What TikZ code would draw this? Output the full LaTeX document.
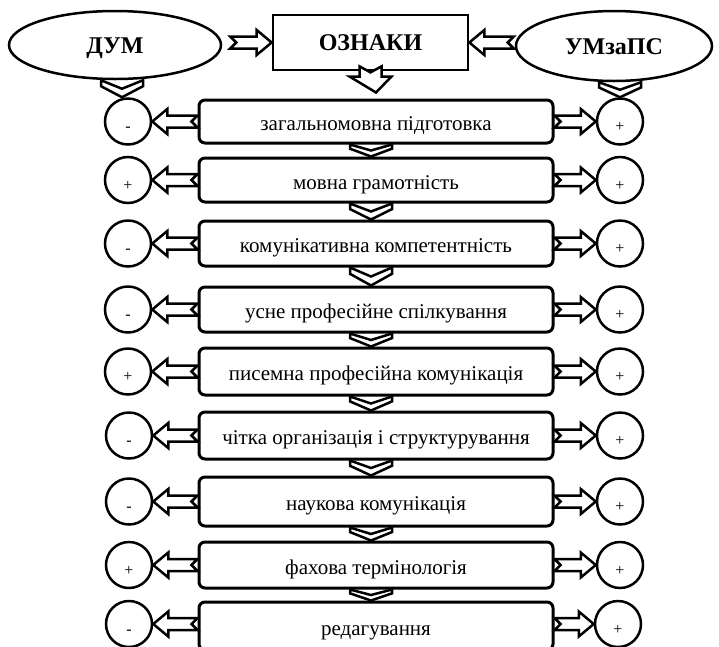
\documentclass[tikz,border=0pt]{standalone}
\usepackage{fontspec}
\setmainfont{Liberation Serif}
\usetikzlibrary{shapes.geometric,calc}

\newcommand\hblk[2]{\draw[blk] let \p1=(#1), \p2=(#2), \n1={sign(\x2-\x1)} in
  (\x1,{\y2+6pt}) -- ({\x2-\n1*15pt},{\y2+6pt}) -- ({\x2-\n1*15pt},{\y2+12.5pt}) -- (\x2,\y2)
  -- ({\x2-\n1*15pt},{\y2-12.5pt}) -- ({\x2-\n1*15pt},{\y2-6pt}) -- (\x1,{\y2-6pt})
  -- ({\x1+\n1*6pt},\y2) -- cycle;}
\newcommand\chev[2]{\draw[blk] let \p1=(#1), \p2=(#2), \n1={\y1-\y2} in
  ({\x1-21pt},\y1) -- (\x1,{\y1-0.5*\n1}) -- ({\x1+21pt},\y1) -- ({\x1+21pt},{\y1-0.35*\n1})
  -- (\x1,\y2) -- ({\x1-21pt},{\y1-0.35*\n1}) -- cycle;}
\newcommand\sg[1]{\raisebox{-10pt}[0pt][0pt]{#1}}

\begin{document}
\begin{tikzpicture}[x=1pt,y=-1pt,
  oval/.style={ellipse, draw, line width=2.5pt, fill=white, inner sep=0pt, text height=16pt, text depth=0pt, font=\bfseries\fontsize{24}{26}\selectfont},
  headbox/.style={rectangle, draw, line width=2.7pt, fill=white, minimum width=195pt, minimum height=55pt, inner sep=0pt, text height=16pt, text depth=0pt, font=\bfseries\fontsize{24}{26}\selectfont},
  item/.style={rectangle, rounded corners=6pt, draw, line width=3pt, fill=white, minimum width=354pt, inner sep=0pt, text height=19pt, text depth=1pt, font=\fontsize{21}{23}\selectfont},
  signc/.style={circle, draw, line width=2.5pt, fill=white, minimum size=46pt, inner sep=0pt, font=\fontsize{16}{16}\selectfont},
  blk/.style={draw, line width=2.5pt, fill=white, line join=miter}]
\useasboundingbox (0,0) rectangle (719,646);

\node[oval, minimum width=212pt, minimum height=68pt] (dum) at (115,45) {ДУМ};
\node[oval, minimum width=196pt, minimum height=70pt] (um) at (614,46) {УМзаПС};
\node[headbox] (oz) at (370.5,42.5) {ОЗНАКИ};

\node[item, minimum height=43pt] (b1) at (376,121.5) {загальномовна підготовка};
\node[item, minimum height=44pt] (b2) at (376,180) {мовна грамотність};
\node[item, minimum height=45pt] (b3) at (376,243.5) {комунікативна компетентність};
\node[item, minimum height=45pt] (b4) at (376,309.5) {усне професійне спілкування};
\node[item, minimum height=47pt] (b5) at (376,371.5) {писемна професійна комунікація};
\node[item, minimum height=47pt] (b6) at (376,435.5) {чітка організація і структурування};
\node[item, minimum height=49pt] (b7) at (376,501.5) {наукова комунікація};
\node[item, minimum height=46pt] (b8) at (376,565) {фахова термінологія};
\node[item, minimum height=48pt] (b9) at (376,626) {редагування};

\node[signc] (l1) at (128,121.5) {\sg{-}};
\node[signc] (l2) at (128,180) {\sg{+}};
\node[signc] (l3) at (128,243.5) {\sg{-}};
\node[signc] (l4) at (128,309.5) {\sg{-}};
\node[signc] (l5) at (128,371.5) {\sg{+}};
\node[signc] (l6) at (129,435.5) {\sg{-}};
\node[signc] (l7) at (129,501.5) {\sg{-}};
\node[signc] (l8) at (129,565) {\sg{+}};
\node[signc] (l9) at (129,624) {\sg{-}};

\node[signc] (r1) at (620,121.5) {\sg{+}};
\node[signc] (r2) at (620,180) {\sg{+}};
\node[signc] (r3) at (620,243.5) {\sg{+}};
\node[signc] (r4) at (620,309.5) {\sg{+}};
\node[signc] (r5) at (620,371.5) {\sg{+}};
\node[signc] (r6) at (620,435.5) {\sg{+}};
\node[signc] (r7) at (620,501.5) {\sg{+}};
\node[signc] (r8) at (620,565) {\sg{+}};
\node[signc] (r9) at (618,624) {\sg{+}};

% top arrows
\hblk{[xshift=8pt]dum.east}{oz.west}
\hblk{[xshift=-1pt]um.west}{oz.east}
\draw[blk] let \p1=([yshift=5pt]oz.south), \p2=([yshift=6pt]b1.north) in
  ({\x1-11pt},\y1) -- ({\x1-11pt},{\y2+16pt}) -- ({\x1-21pt},{\y2+16pt}) -- (\x2,\y2)
  -- ({\x1+21pt},{\y2+16pt}) -- ({\x1+11pt},{\y2+16pt}) -- ({\x1+11pt},\y1) -- (\x1,{\y1-6pt}) -- cycle;
\chev{[xshift=7pt]dum.south}{l1.north}
\chev{[xshift=6pt]um.south}{r1.north}

% chevrons between items
\foreach \a/\b in {b1/b2,b2/b3,b3/b4,b4/b5,b5/b6,b6/b7,b7/b8,b8/b9}
  {\chev{[xshift=-5pt]\a.south}{[xshift=-5pt]\b.north}}

% side arrows
\foreach \i in {1,...,9}{
  \hblk{b\i.west}{l\i.east}
  \hblk{b\i.east}{r\i.west}
}
\end{tikzpicture}
\end{document}
